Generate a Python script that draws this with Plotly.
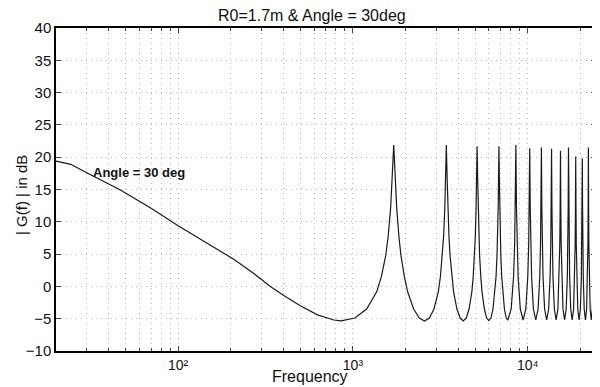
import math
import plotly.graph_objects as go

# Low-frequency part
freq_low = [20, 24.3, 30, 36, 47, 58, 70, 100, 134, 175, 208, 271, 337, 402, 500, 627, 778, 856]
db_low = [19.4, 18.9, 17.6, 16.5, 14.9, 13.4, 12.1, 9.4, 7.3, 5.4, 4.2, 2.0, 0.0, -1.4, -3.0, -4.4, -5.2, -5.35]

# Resonance peaks 1-4 (detailed)
freq_p1 = [1027, 1198, 1370, 1455, 1541, 1592, 1644, 1678, 1712, 1746, 1780, 1832, 1883, 1969, 2054, 2226, 2397, 2568]
db_p1 = [-4.9, -3.5, -0.8, 1.5, 4.8, 7.8, 12.2, 17.0, 21.9, 17.0, 12.2, 7.8, 4.8, 1.5, -0.8, -3.5, -4.9, -5.35]
freq_p2 = [2739, 2910, 3082, 3167, 3253, 3304, 3356, 3390, 3424, 3458, 3492, 3544, 3595, 3681, 3766, 3938, 4109, 4280]
db_p2 = [-4.9, -3.5, -0.8, 1.5, 4.8, 7.8, 12.2, 17.0, 21.9, 17.0, 12.2, 7.8, 4.8, 1.5, -0.8, -3.5, -4.9, -5.35]
freq_p3 = [4451, 4622, 4794, 4879, 4965, 5016, 5068, 5102, 5136, 5170, 5204, 5256, 5307, 5393, 5478, 5650, 5821, 5992]
db_p3 = [-4.9, -3.5, -0.8, 1.5, 4.8, 7.8, 12.2, 17.0, 21.7, 17.0, 12.2, 7.8, 4.8, 1.5, -0.8, -3.5, -4.9, -5.3]
freq_p4 = [6163, 6334, 6506, 6591, 6677, 6728, 6780, 6814, 6848, 6882, 6916, 6968, 7019, 7105, 7190, 7362, 7533, 7704]
db_p4 = [-4.9, -3.5, -0.8, 1.5, 4.8, 7.8, 12.2, 17.0, 21.7, 17.0, 12.2, 7.8, 4.8, 1.5, -0.8, -3.5, -4.9, -5.2]

# Resonance peaks 5-14 (coarser)
freq_p5 = [8046, 8303, 8423, 8492, 8560, 8628, 8697, 8817, 9074, 9416]
db_p5 = [-3.5, 1.5, 6.6, 12.2, 21.9, 12.2, 6.6, 1.5, -3.5, -5.2]
freq_p6 = [9758, 10015, 10135, 10204, 10272, 10340, 10409, 10529, 10786, 11128]
db_p6 = [-3.5, 1.5, 6.6, 12.2, 21.4, 12.2, 6.6, 1.5, -3.5, -5.2]
freq_p7 = [11470, 11727, 11847, 11916, 11984, 12052, 12121, 12241, 12498, 12840]
db_p7 = [-3.5, 1.5, 6.6, 12.2, 21.5, 12.2, 6.6, 1.5, -3.5, -5.2]
freq_p8 = [13182, 13439, 13559, 13628, 13696, 13764, 13833, 13953, 14210, 14552]
db_p8 = [-3.5, 1.5, 6.6, 12.2, 21.3, 12.2, 6.6, 1.5, -3.5, -5.2]
freq_p9 = [14894, 15151, 15271, 15340, 15408, 15476, 15545, 15665, 15922, 16264]
db_p9 = [-3.5, 1.5, 6.6, 12.2, 21.0, 12.2, 6.6, 1.5, -3.5, -5.2]
freq_p10 = [16606, 16863, 16983, 17052, 17120, 17188, 17257, 17377, 17634, 17976]
db_p10 = [-3.5, 1.5, 6.6, 12.2, 21.5, 12.2, 6.6, 1.5, -3.5, -5.2]
freq_p11 = [18318, 18575, 18695, 18764, 18832, 18900, 18969, 19089, 19346, 19688]
db_p11 = [-3.5, 1.5, 6.6, 12.2, 20.1, 12.2, 6.6, 1.5, -3.5, -5.2]
freq_p12 = [20030, 20287, 20407, 20476, 20544, 20612, 20681, 20801, 21058, 21400]
db_p12 = [-3.5, 1.5, 6.6, 12.2, 19.8, 12.2, 6.6, 1.5, -3.5, -5.2]
freq_p13 = [21742, 21999, 22119, 22188, 22256, 22324, 22393, 22513, 22770, 23112]
db_p13 = [-3.5, 1.5, 6.6, 12.2, 21.5, 12.2, 6.6, 1.5, -3.5, -5.2]
freq_p14 = [23454, 23711, 23831, 23900, 23968, 24036, 24105, 24225, 24482, 24600]
db_p14 = [-3.5, 1.5, 6.6, 12.2, 19.8, 12.2, 6.6, 1.5, -3.5, -4.3]

freq = (freq_low + freq_p1 + freq_p2 + freq_p3 + freq_p4 + freq_p5 + freq_p6 + freq_p7
        + freq_p8 + freq_p9 + freq_p10 + freq_p11 + freq_p12 + freq_p13 + freq_p14)
db = (db_low + db_p1 + db_p2 + db_p3 + db_p4 + db_p5 + db_p6 + db_p7
      + db_p8 + db_p9 + db_p10 + db_p11 + db_p12 + db_p13 + db_p14)

x_ticks = [100, 1000, 10000]
x_tick_text = ["10²", "10³", "10⁴"]
x_minor = [20, 30, 40, 50, 60, 70, 80, 90, 200, 300, 400, 500, 600, 700, 800, 900,
           2000, 3000, 4000, 5000, 6000, 7000, 8000, 9000, 20000]
y_ticks = [-10, -5, 0, 5, 10, 15, 20, 25, 30, 35, 40]

fig = go.Figure()
fig.add_trace(go.Scatter(x=freq, y=db, mode="lines",
                         line=dict(color="#1a1a1a", width=1.2), showlegend=False))

grid = dict(gridcolor="#b8b8b8", griddash="1px,4px", gridwidth=1)
# The page body has an 8px margin, so the figure is sized/offset to land the plot
# area where the reference has it (x 56..596, y 28..351 in the 600x387 window).
fig.update_layout(
    width=592, height=379,
    margin=dict(l=48, r=4, t=20, b=36, autoexpand=False),
    paper_bgcolor="white", plot_bgcolor="white",
    font=dict(family="Liberation Sans, Arial, sans-serif", color="#111", size=14),
    xaxis=dict(type="log", range=[math.log10(20), math.log10(24600)], automargin=False,
               tickvals=x_ticks, ticktext=x_tick_text, ticks="inside", ticklen=5,
               showline=True, linecolor="black", linewidth=1.5, mirror="allticks",
               tickfont=dict(size=14), zeroline=False,
               minor=dict(tickvals=x_minor, ticks="inside", ticklen=3, showgrid=True, **grid),
               **grid),
    yaxis=dict(range=[-10, 40], tickvals=y_ticks, ticks="inside", ticklen=5, automargin=False,
               showline=True, linecolor="black", linewidth=1.5, mirror="allticks",
               zeroline=False, tickfont=dict(size=15),
               **grid),
)
# Title and axis labels placed as in the reference
fig.add_annotation(x=0.474, y=1.0, xref="paper", yref="paper", yshift=13,
                   text="R0=1.7m & Angle = 30deg", showarrow=False,
                   xanchor="center", yanchor="middle", font=dict(size=16))
fig.add_annotation(x=0.470, y=0.0, xref="paper", yref="paper", yshift=-25,
                   text="Frequency", showarrow=False,
                   xanchor="center", yanchor="middle", font=dict(size=16))
fig.add_annotation(x=0.0, y=0.483, xref="paper", yref="paper", xshift=-34,
                   text="| G(f) | in dB", showarrow=False, textangle=-90,
                   xanchor="center", yanchor="middle", font=dict(size=15))
fig.add_annotation(x=math.log10(31.6), y=17.7, xref="x", yref="y", text="<b>Angle = 30 deg</b>",
                   showarrow=False, xanchor="left", yanchor="middle",
                   font=dict(size=13, color="#111"))

fig.write_html("out.html")
